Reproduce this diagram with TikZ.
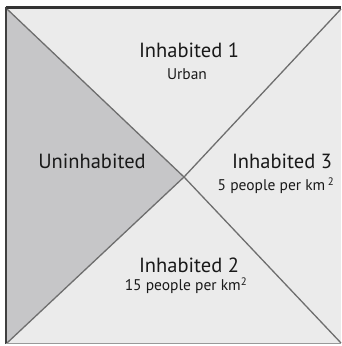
\documentclass[tikz,border=0pt]{standalone}
\usepackage{fontspec}
\setmainfont{PT Sans}
\definecolor{zonelight}{HTML}{EBEBEB}
\definecolor{zonedark}{HTML}{C6C6C8}
\definecolor{diagline}{HTML}{6E6E6E}
\begin{document}
\begin{tikzpicture}[x=1pt,y=-1pt,
  every node/.style={inner sep=0pt, text=black!90},
  title/.style={font=\fontsize{20.5}{22}\selectfont},
  sub/.style={font=\fontsize{15.5}{17}\selectfont}]
  \useasboundingbox (0,0) rectangle (341,346);
  \coordinate (tl) at (7,9);
  \coordinate (tr) at (341,9);
  \coordinate (br) at (341,343);
  \coordinate (bl) at (7,343);
  \coordinate (m) at (184,177);

  \fill[zonelight] (tl) rectangle (br);
  \fill[zonedark] (tl) -- (m) -- (bl) -- cycle;

  \draw[diagline, line width=1.3pt] (tl) -- (m) -- (br)
                                    (tr) -- (m) -- (bl);

  \draw[black!80, line width=3pt] (5.5,7.5) -- (341,7.5);
  \draw[black!75, line width=2pt] (6,7) -- (6,344);
  \draw[black!40, line width=1pt] (6,343.5) -- (341,343.5);

  \node[title] (in1) at (189,50) {Inhabited 1};
  \node[sub] (in1s) at (187,74) {Urban};
  \node[title] (un) at (92,161) {Uninhabited};
  \node[title] (in3) at (282,161) {Inhabited 3};
  \node[sub] (in3s) at (276,186) {5 people per km\,\textsuperscript{2}};
  \node[title] (in2) at (189,265) {Inhabited 2};
  \node[sub] (in2s) at (186,286) {15 people per km\textsuperscript{2}};
\end{tikzpicture}
\end{document}
